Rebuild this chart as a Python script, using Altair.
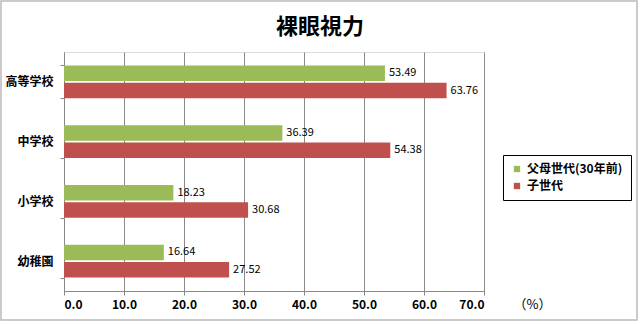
import altair as alt
import pandas as pd

title_text = "裸眼視力"
categories = ["高等学校", "中学校", "小学校", "幼稚園"]
series = ["父母世代(30年前)", "子世代"]
parents = [53.49, 36.39, 18.23, 16.64]
children = [63.76, 54.38, 30.68, 27.52]
colors = ["#9BBB59", "#C0504D"]
x_ticks = [0, 10, 20, 30, 40, 50, 60, 70]

rows = []
for c, p, k in zip(categories, parents, children):
    rows.append({"cat": c, "series": series[0], "value": p})
    rows.append({"cat": c, "series": series[1], "value": k})
df = pd.DataFrame(rows)

FONT = "Noto Sans CJK JP"

y_enc = alt.Y(
    "cat:N", sort=categories,
    scale=alt.Scale(paddingInner=0.45, paddingOuter=0.225),
    axis=alt.Axis(title=None, labelFontSize=12, labelFontWeight="bold", labelColor="#000",
                  labelFont=FONT, domainColor="#888", tickColor="#888", tickSize=4,
                  tickBand="extent", labelPadding=7, grid=False),
)
x_enc = alt.X(
    "value:Q", scale=alt.Scale(domain=[0, 70], nice=False),
    axis=alt.Axis(values=x_ticks, format=".1f", title="（%）", titleX=468, titleY=13,
                  titleAlign="center", titleBaseline="middle", titleFontSize=13,
                  titleFontWeight="normal", titleFont=FONT, titleColor="#000",
                  labelFontSize=12, labelFontWeight="bold", labelFont=FONT, labelColor="#000",
                  labelPadding=4, tickSize=4, tickColor="#888", domainColor="#888",
                  grid=True, gridColor="#8a8a8a", gridWidth=1),
)
yoff = alt.YOffset("series:N", sort=series, scale=alt.Scale(paddingInner=0.1))
color = alt.Color(
    "series:N", sort=series, scale=alt.Scale(domain=series, range=colors),
    legend=alt.Legend(title=None, orient="none", legendX=439, legendY=103,
                      strokeColor="#000", padding=8, symbolType="square", symbolSize=40,
                      symbolStrokeWidth=0, labelFontSize=12, labelFont=FONT,
                      labelFontWeight="bold", labelColor="#000", rowPadding=5),
)

one = pd.DataFrame({"t": [title_text]})

frame = alt.Chart(one).mark_rect(
    fillOpacity=0, stroke="#bbbbbb", strokeWidth=1.5
).encode(x=alt.value(-63), x2=alt.value(573), y=alt.value(-51), y2=alt.value(268))

title = alt.Chart(one).mark_text(
    fontSize=22, fontWeight="bold", font=FONT, color="#000", baseline="middle", align="center"
).encode(text="t:N", x=alt.value(256), y=alt.value(-25))

bars = alt.Chart(df).mark_bar().encode(x=x_enc, y=y_enc, yOffset=yoff, color=color)
labels = alt.Chart(df).mark_text(
    align="left", dx=4, fontSize=11, font=FONT, color="#000"
).encode(x=x_enc, y=y_enc, yOffset=yoff, text=alt.Text("value:Q", format=".2f"))

chart = alt.layer(frame, title, bars, labels).properties(
    width=420, height=239,
    autosize=alt.AutoSizeParams(type="none"),
    padding={"left": 64, "top": 52, "right": 156, "bottom": 33},
).configure_view(strokeWidth=0).configure(background="white")

chart.save("out.html", embed_options={"renderer": "svg", "actions": False})
